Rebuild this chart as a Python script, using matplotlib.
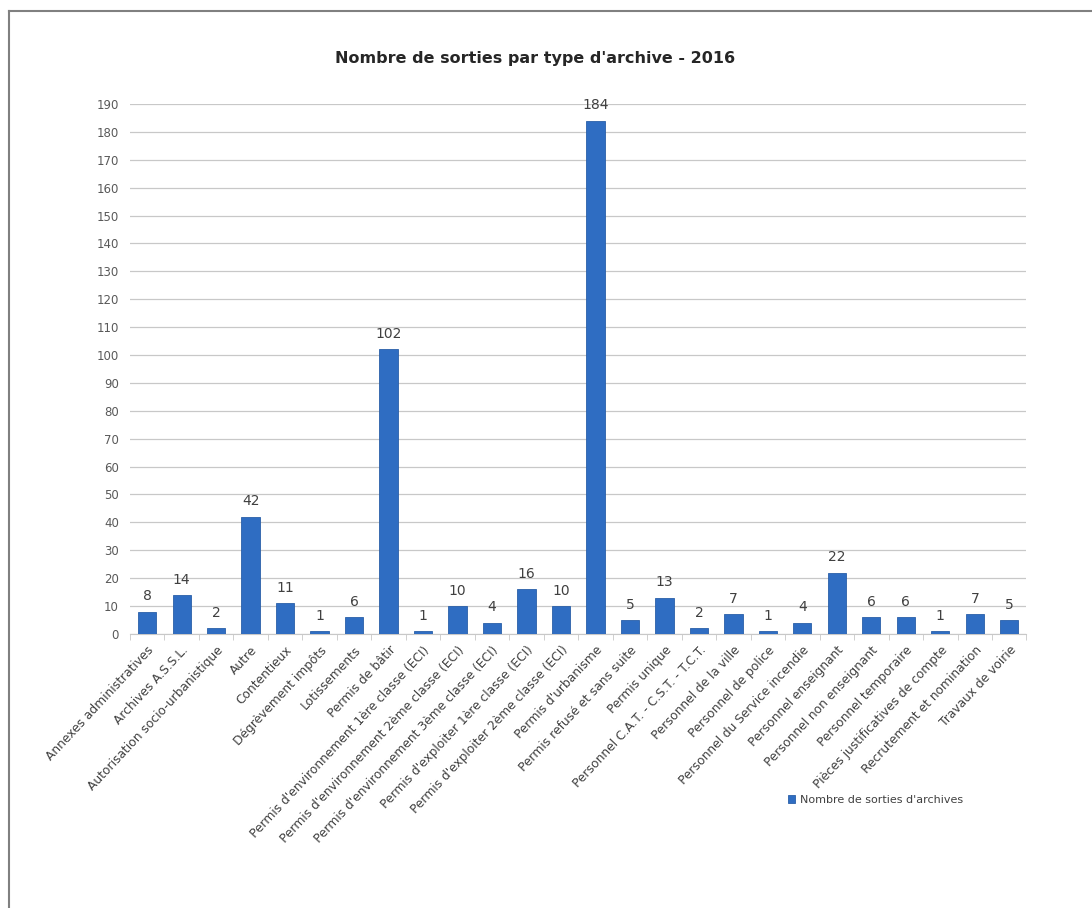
import matplotlib.pyplot as plt
from matplotlib.lines import Line2D
import numpy as np

# données
categories = [
    "Annexes administratives",
    "Archives A.S.S.L.",
    "Autorisation socio-urbanistique",
    "Autre",
    "Contentieux",
    "Dégrèvement impôts",
    "Lotissements",
    "Permis de bâtir",
    "Permis d'environnement 1ère classe (ECI)",
    "Permis d'environnement 2ème classe (ECI)",
    "Permis d'environnement 3ème classe (ECI)",
    "Permis d'exploiter 1ère classe (ECI)",
    "Permis d'exploiter 2ème classe (ECI)",
    "Permis d'urbanisme",
    "Permis refusé et sans suite",
    "Permis unique",
    "Personnel C.A.T. - C.S.T. - T.C.T.",
    "Personnel de la ville",
    "Personnel de police",
    "Personnel du Service incendie",
    "Personnel enseignant",
    "Personnel non enseignant",
    "Personnel temporaire",
    "Pièces justificatives de compte",
    "Recrutement et nomination",
    "Travaux de voirie",
]
sorties = [8, 14, 2, 42, 11, 1, 6, 102, 1, 10, 4, 16, 10, 184,
           5, 13, 2, 7, 1, 4, 22, 6, 6, 1, 7, 5]
y_ticks = list(range(0, 200, 10))

fig = plt.figure(figsize=(10.92, 9.08), dpi=100)
ax = fig.add_axes([0.119, 0.3018, 0.821, 0.5837])

x = np.arange(len(categories))
bars = ax.bar(x, sorties, width=0.53, color='#2F6DC2', edgecolor='#2A5FA8',
              linewidth=0.6, zorder=3, label="Nombre de sorties d'archives")

for xi, v in zip(x, sorties):
    ax.text(xi, v + 3, str(v), ha='center', va='bottom', fontsize=10,
            color='#404040', zorder=4)

ax.set_xlim(-0.5, len(categories) - 0.5)
ax.set_ylim(0, 190)
ax.set_yticks(y_ticks)
ax.tick_params(axis='y', length=0, labelsize=8.5, labelcolor='#595959', pad=8)
ax.yaxis.grid(True, color='#C8C8C8', linewidth=0.9, zorder=0)

ax.set_xticks(x)
ax.set_xticklabels(categories, rotation=47, ha='right', rotation_mode='anchor',
                   fontsize=8.8, color='#404040')
ax.set_xticks(np.arange(-0.5, len(categories), 1), minor=True)
ax.tick_params(axis='x', which='major', length=0, pad=7)
ax.tick_params(axis='x', which='minor', length=4, color='#C8C8C8')

for s in ['top', 'right', 'left']:
    ax.spines[s].set_visible(False)
ax.spines['bottom'].set_color('#C8C8C8')

fig.text(0.49, 0.936, "Nombre de sorties par type d'archive - 2016",
         ha='center', va='center', fontsize=11.5, fontweight='bold',
         color='#262626')

fig.legend(handles=[bars], loc='center left', bbox_to_anchor=(0.712, 0.119),
           frameon=False, fontsize=8, handlelength=0.7, handleheight=0.7,
           handletextpad=0.4, labelcolor='#404040')

# cadre gauche et haut
fig.add_artist(Line2D([0.0085, 0.0085], [0.0, 0.988], transform=fig.transFigure,
                      color='#808080', linewidth=1.5))
fig.add_artist(Line2D([0.0085, 1.0], [0.988, 0.988], transform=fig.transFigure,
                      color='#808080', linewidth=1.5))

fig.savefig('out.png', dpi=100)
